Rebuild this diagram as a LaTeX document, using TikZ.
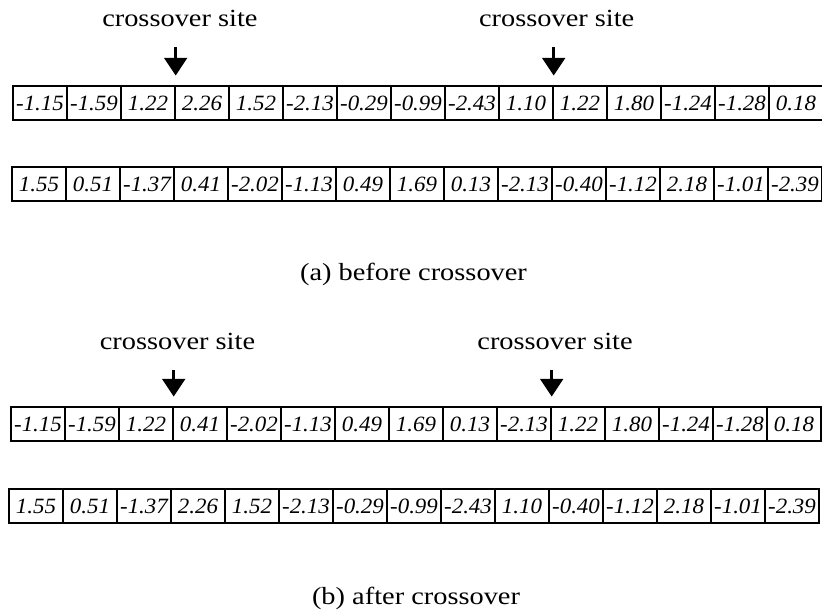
\documentclass[tikz,border=0pt]{standalone}
\usepackage{fontspec}
\setmainfont{Liberation Serif}
\newfontfamily\labfont[FakeStretch=1.15]{Liberation Serif}
\newfontfamily\numfont[FakeStretch=1.05]{Liberation Serif}
\usetikzlibrary{arrows.meta}
\tikzset{
  cell/.style={draw, line width=0.7pt, minimum width=1cm, minimum height=0.63cm,
    inner sep=0pt, font=\numfont\itshape\fontsize{11.5}{13}\selectfont},
  sitelabel/.style={inner sep=0pt, font=\labfont\fontsize{13}{15}\selectfont},
  caption/.style={anchor=base, inner sep=0pt, font=\labfont\fontsize{13}{15}\selectfont},
  sitearrow/.style={line width=1.8pt, -{Triangle[width=0.42cm,length=0.33cm]},
    shorten <=0.37cm, shorten >=0.18cm}
}
\begin{document}
\begin{tikzpicture}
    \useasboundingbox (0,0) rectangle (15.222,-11.296);
    % before crossover
    \foreach \v [count=\i] in {-1.15,-1.59,1.22,2.26,1.52,-2.13,-0.29,-0.99,-2.43,1.10,1.22,1.80,-1.24,-1.28,0.18}
        \node[cell] (ra\i) at (0.241+\i-0.5,-1.907) {\v};
    \foreach \v [count=\i] in {1.55,0.51,-1.37,0.41,-2.02,-1.13,0.49,1.69,0.13,-2.13,-0.40,-1.12,2.18,-1.01,-2.39}
        \node[cell] (rb\i) at (0.222+\i-0.5,-3.407) {\v};
    \node[sitelabel] (sa1) at (3.331,-0.343) {crossover site};
    \node[sitelabel] (sa2) at (10.309,-0.343) {crossover site};
    \draw[sitearrow] (sa1.south -| ra3.north east) -- (ra3.north east);
    \draw[sitearrow] (sa2.south -| ra10.north east) -- (ra10.north east);
    \node[caption] (capa) at (7.657,-5.198) {(a) before crossover};
    % after crossover
    \foreach \v [count=\i] in {-1.15,-1.59,1.22,0.41,-2.02,-1.13,0.49,1.69,0.13,-2.13,1.22,1.80,-1.24,-1.28,0.18}
        \node[cell] (rc\i) at (0.204+\i-0.5,-7.852) {\v};
    \foreach \v [count=\i] in {1.55,0.51,-1.37,2.26,1.52,-2.13,-0.29,-0.99,-2.43,1.10,-0.40,-1.12,2.18,-1.01,-2.39}
        \node[cell] (rd\i) at (0.167+\i-0.5,-9.370) {\v};
    \node[sitelabel] (sb1) at (3.287,-6.324) {crossover site};
    \node[sitelabel] (sb2) at (10.278,-6.324) {crossover site};
    \draw[sitearrow] (sb1.south -| rc3.north east) -- (rc3.north east);
    \draw[sitearrow] (sb2.south -| rc10.north east) -- (rc10.north east);
    \node[caption] (capb) at (7.704,-11.2) {(b) after crossover};
\end{tikzpicture}
\end{document}
